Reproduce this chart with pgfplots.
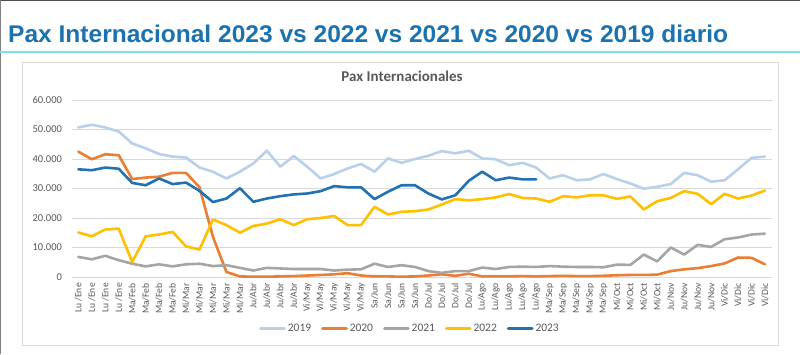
\documentclass[border=0pt]{standalone}
\usepackage{pgfplots}
\pgfplotsset{compat=1.18}
\usepackage{fontspec}
\setmainfont{Carlito}
\newfontfamily\titlefont{Liberation Sans}
\definecolor{titleblue}{RGB}{26,114,176}
\definecolor{cyanline}{RGB}{125,222,236}
\definecolor{tickgray}{RGB}{89,89,89}
\definecolor{gridgray}{RGB}{217,217,217}
\definecolor{c19}{RGB}{184,208,234}
\definecolor{c20}{RGB}{237,125,49}
\definecolor{c21}{RGB}{165,165,165}
\definecolor{c22}{RGB}{255,192,0}
\definecolor{c23}{RGB}{34,113,178}
\begin{document}
\begin{tikzpicture}[x=1pt,y=1pt]
\path[use as bounding box, fill=white] (0,0) rectangle (800,354);
\fill[black!70] (0,352.5) rectangle (800,354);
\fill[black!50] (0,0) rectangle (1,354);
\node[anchor=base west, inner sep=0pt, text=titleblue] at (8,311) {\resizebox{720pt}{17.5pt}{\titlefont\bfseries Pax Internacional 2023 vs 2022 vs 2021 vs 2020 vs 2019 diario}};
\fill[cyanline] (0,300.5) rectangle (800,303);
\draw[black!15, line width=0.8pt] (22,292) rectangle (778,9);
\node[text=tickgray, font=\bfseries\fontsize{15}{17}\selectfont] at (402,278) {Pax Internacionales};
\begin{axis}[
  at={(71.6pt,77pt)}, anchor=south west,
  width=700.1pt, height=177pt, scale only axis,
  xmin=-0.5, xmax=51.5, ymin=0, ymax=60,
  axis line style={draw=none},
  major tick length=0pt,
  ytick={0,10,20,30,40,50,60},
  yticklabels={0,10.000,20.000,30.000,40.000,50.000,60.000},
  ymajorgrids, grid style={gridgray, line width=0.8pt},
  yticklabel style={font=\fontsize{10.5}{12}\selectfont, text=tickgray, anchor=east, inner sep=0pt, xshift=-9.5pt},
  xtick={0,...,51},
  xticklabels={Lu /Ene,Lu /Ene,Lu /Ene,Lu /Ene,Ma/Feb,Ma/Feb,Ma/Feb,Ma/Feb,Mi/Mar,Mi/Mar,Mi/Mar,Mi/Mar,Mi/Mar,Ju/Abr,Ju/Abr,Ju/Abr,Ju/Abr,Vi/May,Vi/May,Vi/May,Vi/May,Vi/May,Sa/Jun,Sa/Jun,Sa/Jun,Sa/Jun,Do/Jul,Do/Jul,Do/Jul,Do/Jul,Lu/Ago,Lu/Ago,Lu/Ago,Lu/Ago,Lu/Ago,Ma/Sep,Ma/Sep,Ma/Sep,Ma/Sep,Ma/Sep,Mi/Oct,Mi/Oct,Mi/Oct,Mi/Oct,Ju/Nov,Ju/Nov,Ju/Nov,Ju/Nov,Vi/Dic,Vi/Dic,Vi/Dic,Vi/Dic},
  xticklabel style={font=\fontsize{9.6}{10}\selectfont, text=tickgray, rotate=90, anchor=east, inner sep=0pt, xshift=-6pt},
  legend columns=5,
  legend style={at={(0.4834,-0.2900)}, anchor=center, draw=none, fill=none,
    font=\fontsize{11.5}{12}\selectfont, text=tickgray,
    /tikz/every even column/.append style={column sep=8pt}},
  legend image code/.code={\draw[#1, line width=2.6pt] (0pt,0pt) -- (24pt,0pt);},
  every axis plot/.append style={line width=2.6pt, line join=round, line cap=round},
]
\addplot[c19] coordinates {(0,50.7)(1,51.6)(2,50.7)(3,49.3)(4,45.3)(5,43.6)(6,41.7)(7,40.8)(8,40.5)(9,37.1)(10,35.7)(11,33.4)(12,35.7)(13,38.5)(14,42.8)(15,37.4)(16,41.0)(17,37.4)(18,33.4)(19,34.9)(20,36.8)(21,38.3)(22,35.7)(23,40.2)(24,38.7)(25,40.0)(26,41.1)(27,42.7)(28,41.9)(29,42.8)(30,40.2)(31,39.9)(32,37.9)(33,38.7)(34,37.1)(35,33.4)(36,34.5)(37,32.8)(38,33.1)(39,34.9)(40,33.2)(41,31.7)(42,29.9)(43,30.6)(44,31.5)(45,35.3)(46,34.5)(47,32.3)(48,32.8)(49,36.5)(50,40.4)(51,40.8)};
\addlegendentry{2019}
\addplot[c20] coordinates {(0,42.5)(1,39.9)(2,41.6)(3,41.3)(4,33.2)(5,33.7)(6,34.0)(7,35.3)(8,35.3)(9,30.4)(10,13.6)(11,1.7)(12,0.2)(13,0.1)(14,0.1)(15,0.2)(16,0.3)(17,0.5)(18,0.7)(19,0.9)(20,1.3)(21,0.5)(22,0.2)(23,0.2)(24,0.1)(25,0.2)(26,0.5)(27,0.9)(28,0.4)(29,1.1)(30,0.2)(31,0.2)(32,0.2)(33,0.3)(34,0.2)(35,0.3)(36,0.4)(37,0.3)(38,0.3)(39,0.4)(40,0.6)(41,0.7)(42,0.7)(43,0.8)(44,2.0)(45,2.6)(46,3.0)(47,3.7)(48,4.6)(49,6.6)(50,6.5)(51,4.3)};
\addlegendentry{2020}
\addplot[c21] coordinates {(0,6.8)(1,6.0)(2,7.2)(3,5.7)(4,4.5)(5,3.6)(6,4.3)(7,3.6)(8,4.3)(9,4.5)(10,3.7)(11,4.0)(12,3.1)(13,2.2)(14,3.1)(15,2.9)(16,2.7)(17,2.7)(18,2.7)(19,2.2)(20,2.5)(21,2.6)(22,4.5)(23,3.4)(24,4.0)(25,3.4)(26,2.0)(27,1.4)(28,2.0)(29,2.0)(30,3.2)(31,2.7)(32,3.4)(33,3.5)(34,3.4)(35,3.7)(36,3.5)(37,3.4)(38,3.4)(39,3.3)(40,4.2)(41,4.1)(42,7.6)(43,5.3)(44,10.0)(45,7.6)(46,10.9)(47,10.2)(48,12.8)(49,13.4)(50,14.4)(51,14.7)};
\addlegendentry{2021}
\addplot[c22] coordinates {(0,15.1)(1,13.8)(2,16.1)(3,16.4)(4,5.1)(5,13.8)(6,14.4)(7,15.3)(8,10.4)(9,9.3)(10,19.5)(11,17.6)(12,15.0)(13,17.3)(14,18.1)(15,19.6)(16,17.6)(17,19.6)(18,20.0)(19,20.7)(20,17.6)(21,17.6)(22,23.8)(23,21.2)(24,22.1)(25,22.3)(26,22.9)(27,24.6)(28,26.4)(29,26.0)(30,26.4)(31,27.0)(32,28.1)(33,26.8)(34,26.6)(35,25.5)(36,27.4)(37,27.0)(38,27.7)(39,27.7)(40,26.5)(41,27.3)(42,22.9)(43,25.7)(44,26.8)(45,29.1)(46,28.2)(47,24.7)(48,28.2)(49,26.6)(50,27.6)(51,29.3)};
\addlegendentry{2022}
\addplot[c23] coordinates {(0,36.5)(1,36.2)(2,37.1)(3,36.7)(4,31.9)(5,31.1)(6,33.4)(7,31.5)(8,32.0)(9,29.2)(10,25.4)(11,26.6)(12,30.1)(13,25.5)(14,26.6)(15,27.4)(16,28.0)(17,28.3)(18,29.1)(19,30.8)(20,30.4)(21,30.4)(22,26.4)(23,28.9)(24,31.1)(25,31.1)(26,28.3)(27,26.3)(28,27.7)(29,32.6)(30,35.7)(31,32.8)(32,33.7)(33,33.1)(34,33.1)};
\addlegendentry{2023}
\end{axis}
\end{tikzpicture}
\end{document}
